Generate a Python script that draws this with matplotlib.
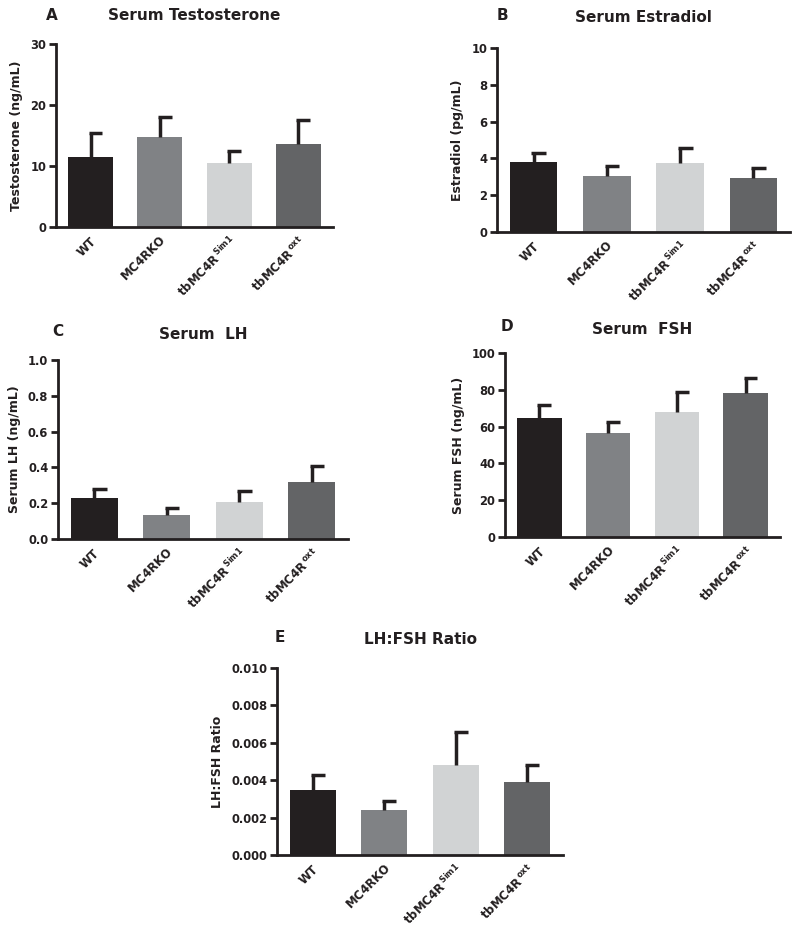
import numpy as np
import matplotlib.pyplot as plt

plt.rcParams['font.family'] = ['DejaVu Sans']
plt.rcParams['font.weight'] = 'bold'
plt.rcParams['mathtext.fontset'] = 'dejavusans'

groups = [r'$\mathbf{WT}$', r'$\mathbf{MC4RKO}$',
          r'$\mathbf{tbMC4R}^{\,\mathrm{Sim1}}$', r'$\mathbf{tbMC4R}^{\,\mathrm{oxt}}$']
colors = ['#231f20', '#808285', '#d1d3d4', '#636466']

# panel data: mean and top of error bar
testo_mean = [11.5, 14.8, 10.5, 13.6]
testo_top = [15.4, 18.1, 12.4, 17.5]
estr_mean = [3.8, 3.05, 3.75, 2.95]
estr_top = [4.3, 3.6, 4.55, 3.5]
lh_mean = [0.23, 0.135, 0.205, 0.32]
lh_top = [0.28, 0.175, 0.27, 0.41]
fsh_mean = [64.5, 56.5, 68, 78.5]
fsh_top = [72, 62.5, 79, 86.5]
ratio_mean = [0.0035, 0.0024, 0.0048, 0.0039]
ratio_top = [0.0043, 0.0029, 0.0066, 0.0048]

W, H = 800, 932
fig = plt.figure(figsize=(W / 100, H / 100), dpi=100)


def px_axes(l, r, t, b):
    return fig.add_axes([l / W, 1 - b / H, (r - l) / W, (b - t) / H])


panels = [
    # letter, title, ylabel, means, tops, ymax, ticks, fmt, box, letter pos, title pad
    ('A', 'Serum Testosterone', 'Testosterone (ng/mL)', testo_mean, testo_top,
     30, [0, 10, 20, 30], '{:.0f}', (56, 333, 44, 227), (52, 15), 17),
    ('B', 'Serum Estradiol', 'Estradiol (pg/mL)', estr_mean, estr_top,
     10, [0, 2, 4, 6, 8, 10], '{:.0f}', (497, 790, 48, 232), (502, 16), 19),
    ('C', 'Serum  LH', 'Serum LH (ng/mL)', lh_mean, lh_top,
     1.0, [0, 0.2, 0.4, 0.6, 0.8, 1.0], '{:.1f}', (58, 348, 360, 539), (58, 332), 15),
    ('D', 'Serum  FSH', 'Serum FSH (ng/mL)', fsh_mean, fsh_top,
     100, [0, 20, 40, 60, 80, 100], '{:.0f}', (505, 780, 353, 537), (507, 326), 14),
    ('E', 'LH:FSH Ratio', 'LH:FSH Ratio', ratio_mean, ratio_top,
     0.010, [0, 0.002, 0.004, 0.006, 0.008, 0.010], '{:.3f}', (277, 563, 668, 855), (280, 638), 17),
]

x = np.arange(4)
for letter, title, ylab, means, tops, ymax, ticks, fmt, box, lpos, pad in panels:
    ax = px_axes(*box)
    ax.bar(x, means, width=0.65, color=colors, zorder=2)
    ax.vlines(x, means, tops, color='#231f20', lw=2.5, zorder=3)
    ax.hlines(tops, x - 0.03, x + 0.17, color='#231f20', lw=2.5, zorder=3)
    ax.set_xlim(-0.5, 3.5)
    ax.set_ylim(0, ymax)
    ax.set_yticks(ticks)
    ax.set_yticklabels([fmt.format(t) for t in ticks], fontsize=8.3, fontweight='bold',
                       color='#231f20')
    ax.set_xticks(x)
    ax.set_xticklabels(groups, rotation=45, ha='right', rotation_mode='anchor',
                       fontsize=8.5, color='#231f20')
    ax.tick_params(axis='x', length=0, pad=5)
    ax.tick_params(axis='y', width=2, length=5, direction='out', pad=2, color='#231f20')
    for s in ['top', 'right']:
        ax.spines[s].set_visible(False)
    for s in ['left', 'bottom']:
        ax.spines[s].set_linewidth(2)
        ax.spines[s].set_color('#231f20')
    ax.set_ylabel(ylab, fontsize=9, fontweight='bold', color='#231f20', labelpad=5)
    ax.set_title(title, fontsize=11, fontweight='bold', pad=pad, color='#231f20')
    fig.text(lpos[0] / W, 1 - lpos[1] / H, letter, fontsize=11, fontweight='bold',
             ha='center', va='center', color='#231f20')

fig.savefig('out.png', dpi=100)
